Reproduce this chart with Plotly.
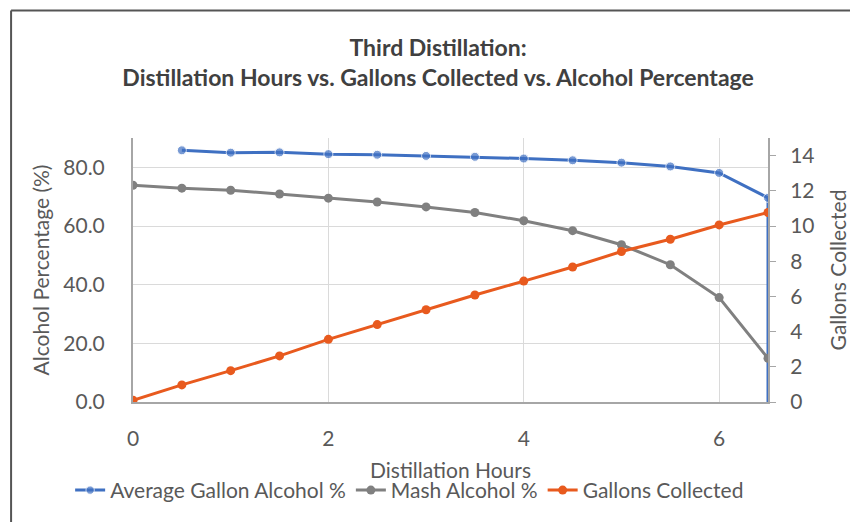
import plotly.graph_objects as go

# distillation hours
hours = [0, 0.5, 1, 1.5, 2, 2.5, 3, 3.5, 4, 4.5, 5, 5.5, 6, 6.5]

# average gallon alcohol % (starts at 0.5 h, drops to 0 at end of run)
avg_hours = [0.5, 1, 1.5, 2, 2.5, 3, 3.5, 4, 4.5, 5, 5.5, 6, 6.5, 6.5]
avg_alcohol = [85.8, 85.0, 85.1, 84.5, 84.3, 83.9, 83.6, 83.0, 82.4, 81.6, 80.3, 78.1, 69.6, 0]

# mash alcohol %
mash_alcohol = [73.9, 72.9, 72.2, 70.9, 69.5, 68.2, 66.5, 64.6, 61.8, 58.4, 53.6, 46.8, 35.6, 14.9]

# gallons collected (right axis)
gallons = [0.1, 0.97, 1.78, 2.62, 3.56, 4.4, 5.24, 6.08, 6.87, 7.67, 8.55, 9.25, 10.06, 10.77]

BLUE = "#3F70C2"
GRAY = "#808080"
ORANGE = "#E85A1E"
TXT = "#595959"
FONT = "Lato"

fig = go.Figure()

fig.add_trace(go.Scatter(
    x=avg_hours, y=avg_alcohol, mode="lines+markers",
    name="Average Gallon Alcohol %",
    line={"color": BLUE, "width": 3},
    marker={"size": [9] * (len(avg_hours) - 1) + [0], "color": BLUE},
))
fig.add_trace(go.Scatter(
    x=hours, y=mash_alcohol, mode="lines+markers",
    name="Mash Alcohol %",
    line={"color": GRAY, "width": 3},
    marker={"size": 9, "color": GRAY},
))
fig.add_trace(go.Scatter(
    x=hours, y=gallons, mode="lines+markers",
    name="Gallons Collected",
    line={"color": ORANGE, "width": 3},
    marker={"size": 9, "color": ORANGE},
    yaxis="y2",
))

# chart frame (top and left edges visible in the source)
fig.add_shape(type="line", xref="paper", yref="paper",
              x0=-0.192, x1=1.3, y0=1.483, y1=1.483,
              line={"color": "#555555", "width": 2})
fig.add_shape(type="line", xref="paper", yref="paper",
              x0=-0.192, x1=-0.192, y0=1.483, y1=-0.5,
              line={"color": "#555555", "width": 2})

# page body has an 8px margin, so the figure is 8px smaller and offsets shrink
fig.update_layout(
    width=850, height=514,
    margin={"l": 125, "r": 90, "t": 130, "b": 119},
    paper_bgcolor="white", plot_bgcolor="white",
    font={"family": FONT, "color": TXT, "size": 20},
    title={
        "text": "<b>Third Distillation:<br>Distillation Hours vs. Gallons Collected vs. Alcohol Percentage</b>",
        "x": 0.506, "xanchor": "center", "y": 0.906, "yanchor": "middle",
        "font": {"family": FONT, "size": 23, "color": "#404040"},
    },
    xaxis={
        "range": [0, 6.5], "tick0": 0, "dtick": 2,
        "showgrid": True, "gridcolor": "#DADADA", "gridwidth": 1,
        "zeroline": False, "showline": True, "linecolor": "#A6A6A6", "linewidth": 2,
        "tickfont": {"size": 21}, "ticklabelstandoff": 17,
        "title": {"text": "Distillation Hours", "font": {"size": 21}, "standoff": 14},
    },
    yaxis={
        "range": [0, 90], "tick0": 0, "dtick": 20, "tickformat": ".1f",
        "showgrid": True, "gridcolor": "#DADADA", "gridwidth": 1,
        "zeroline": False, "showline": True, "linecolor": "#A6A6A6", "linewidth": 2,
        "tickfont": {"size": 21}, "ticklabelstandoff": 22,
        "title": {"text": "Alcohol Percentage (%)", "font": {"size": 21}, "standoff": 8},
    },
    yaxis2={
        "range": [0, 15], "tick0": 0, "dtick": 2, "overlaying": "y", "side": "right",
        "showgrid": False, "zeroline": False,
        "showline": True, "linecolor": "#A6A6A6", "linewidth": 2,
        "ticks": "outside", "ticklen": 6, "tickcolor": "#A6A6A6",
        "tickfont": {"size": 21}, "ticklabelstandoff": 10,
        "title": {"text": "Gallons Collected", "font": {"size": 21}, "standoff": 18},
    },
    legend={
        "orientation": "h", "x": -0.099, "xanchor": "left",
        "y": -0.33, "yanchor": "middle",
        "font": {"size": 21}, "itemwidth": 30, "tracegroupgap": 0,
        "bgcolor": "rgba(0,0,0,0)",
    },
    showlegend=True,
)

fig.write_html("out.html")
